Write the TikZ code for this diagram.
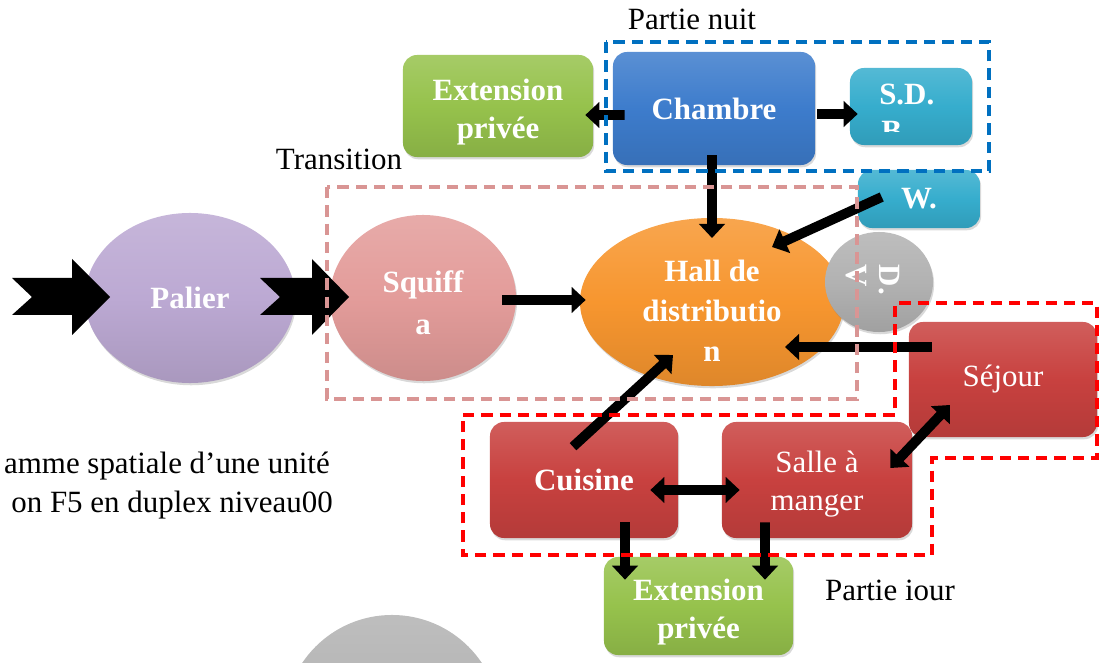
\documentclass[tikz,border=0pt]{standalone}
\usepackage{fontspec}
\setmainfont{Liberation Serif}
\usetikzlibrary{arrows.meta,calc,shapes.geometric,shadows}
\definecolor{cLav}{HTML}{BCA9D3}
\definecolor{cPink}{HTML}{E39C9A}
\definecolor{cOrange}{HTML}{F7962F}
\definecolor{cGray}{HTML}{B2B2B2}
\definecolor{cBlue}{HTML}{3D7CCC}
\definecolor{cCyan}{HTML}{36ADCD}
\definecolor{cGreen}{HTML}{96C24C}
\definecolor{cRed}{HTML}{C8413F}
\definecolor{dBlue}{HTML}{0070C0}
\definecolor{dPink}{HTML}{D99594}
\definecolor{dRed}{HTML}{FF0000}
\begin{document}
\begin{tikzpicture}[x=0.025cm,y=-0.025cm,
  base/.style={draw=none, text=white, align=center, inner sep=0pt,
    font=\bfseries\fontsize{22}{27}\selectfont,
    drop shadow={shadow xshift=0.8pt, shadow yshift=-1.6pt, opacity=0.3}},
  fillc/.style={top color=#1!85!white, bottom color=#1!90!black, middle color=#1},
  rbox/.style={base, rectangle, rounded corners=0.35cm},
  oval/.style={base, ellipse},
  txt/.style={text=white, align=center, inner sep=0pt, font=\bfseries\fontsize{22}{27}\selectfont},
  arr/.style={line width=7pt, draw=black, -{Triangle[width=18pt,length=10pt]}},
  darr/.style={line width=7pt, draw=black, {Triangle[width=18pt,length=10pt]}-{Triangle[width=18pt,length=10pt]}},
  chev/.style={fill=black},
  dbox/.style={line width=2.8pt, dash pattern=on 8pt off 5pt},
  lbl/.style={font=\fontsize{22}{27}\selectfont, inner sep=0pt}
]
\useasboundingbox (0,0) rectangle (1101,663);

% nodes
\node[oval, fillc=cGray, minimum width=5.4cm, minimum height=5.4cm] (grayb) at (392,723) {};
\node[rbox, fillc=cGreen, minimum width=4.75cm, minimum height=2.55cm] (extT) at (498,106) {};
\node[txt] (extTt) at (498,112) {Extension\\privée};
\node[rbox, fillc=cBlue, minimum width=5.05cm, minimum height=2.825cm] (chambre) at (714,108.5) {Chambre};
\node[rbox, fillc=cCyan, minimum width=3.05cm, minimum height=1.925cm] (sdb) at (911,106.5) {};
\node[txt, anchor=base west] (sdbt) at (879,105) {S.D.};
\begin{scope}
\clip (850,68) rectangle (972,132);
\node[txt, anchor=base west] (sdbb) at (881,142) {B};
\end{scope}
\node[rbox, fillc=cCyan, minimum width=3.05cm, minimum height=1.45cm] (w) at (919,199) {W.};
\node[oval, fillc=cLav, minimum width=5.25cm, minimum height=4.25cm] (palier) at (190,298) {Palier};
\node[oval, fillc=cPink, minimum width=4.65cm, minimum height=4.15cm] (squiffa) at (423,298) {};
\node[txt, font=\bfseries\fontsize{22}{30}\selectfont] (squiffat) at (423,303) {Squiff\\a};
\node[oval, fillc=cOrange, minimum width=6.6cm, minimum height=4.2cm] (hall) at (712,302) {};
\node[txt, font=\bfseries\fontsize{22}{28.5}\selectfont] (hallt) at (712,311) {Hall de\\distributio\\n};
\node[oval, fillc=cGray, minimum width=2.7cm, minimum height=2.5cm] (dv) at (879,282) {};
\node[txt, font=\bfseries\fontsize{22}{24}\selectfont, rotate=-90, align=left] (dvt) at (873,280) {D.\\V};
\node[rbox, fillc=cRed, minimum width=4.7cm, minimum height=2.875cm, font=\fontsize{22}{27}\selectfont] (sejour) at (1003,379.5) {Séjour};
\node[rbox, fillc=cRed, minimum width=4.7cm, minimum height=2.9cm] (cuisine) at (584,480) {Cuisine};
\node[rbox, fillc=cRed, minimum width=4.75cm, minimum height=2.9cm] (salle) at (817,480) {};
\node[txt, font=\fontsize{22}{27}\selectfont] (sallet) at (817,484) {Salle à\\manger};
\node[rbox, fillc=cGreen, minimum width=4.725cm, minimum height=2.45cm] (extB) at (698.5,606) {};
\node[txt] (extBt) at (698.5,612) {Extension\\privée};

% chevron arrows
\fill[chev] (12,278) -- (72,278) -- (72,259) -- (110,297) -- (72,335) -- (72,315) -- (12,315) -- (32,297) -- cycle;
\fill[chev] (260,278) -- (312,278) -- (312,259) -- (349,297) -- (312,335) -- (312,315) -- (260,315) -- (280,297) -- cycle;

% connectors
\draw[arr] ($(chambre.west)+(12,6.5)$) -- ($(extT.east)+(-8,9)$);
\draw[arr] ($(chambre.east)+(2,5.5)$) -- ($(sdb.west)+(8,7.5)$);
\draw[arr] ($(chambre.south)+(-2,-10)$) -- ($(hall.center)+(0,-64)$);
\draw[arr] ($(w.west)+(24,-2)$) -- ($(hall.center)+(60,-55)$);
\draw[arr] ($(squiffa.east)+(-14,2)$) -- ($(hall.west)+(6,-2)$);
\draw[arr] ($(sejour.west)+(23,-32.5)$) -- ($(hall.center)+(73,45)$);
\draw[arr] ($(cuisine.north)+(-11,25)$) -- ($(hall.center)+(-39,53)$);
\draw[darr] ($(cuisine.east)+(-28,10)$) -- ($(salle.west)+(18,10)$);
\draw[darr] ($(salle.east)+(-22,-12)$) -- ($(sejour.center)+(-53,25.5)$);
\draw[arr] ($(cuisine.south)+(41,-16)$) -- ($(extB.north)+(-73.5,23)$);
\draw[arr] ($(salle.south)+(-52,-16)$) -- ($(extB.north)+(66.5,23)$);

% dashed zones
\draw[dbox, dBlue] (606,42) rectangle (989,171);
\draw[dbox, dPink] (327,187) rectangle (857,399);
\draw[dbox, dRed] (463,415) -- (895,415) -- (895,303) -- (1097,303) -- (1097,458) -- (932,458) -- (932,555) -- (463,555) -- cycle;

% labels
\node[lbl, anchor=base] (pnuit) at (692,30) {Partie nuit};
\node[lbl, anchor=base] (trans) at (339,170) {Transition};
\node[lbl, anchor=base] (pjour) at (890,600) {Partie iour};
\node[lbl, anchor=base east] (cap1) at (330,474) {amme spatiale d’une unité};
\node[lbl, anchor=base east] (cap2) at (333,512) {on F5 en duplex niveau00};
\end{tikzpicture}
\end{document}
